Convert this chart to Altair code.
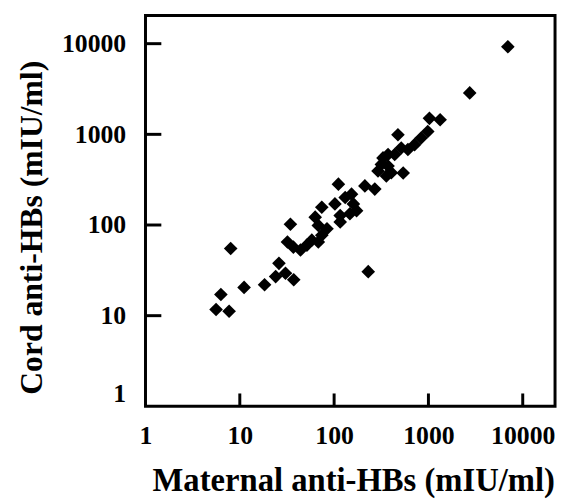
import altair as alt
import pandas as pd

# Values (mIU/ml)
maternal = [6950, 2740, 1025, 1330, 475, 984, 836, 713, 606, 515,
            439, 373, 330, 317, 292, 373, 404, 540, 212, 270,
            111, 230, 102, 131, 153, 160, 147, 116, 116, 173,
            63, 74, 68, 84, 32, 37, 44, 51.5, 58, 68,
            74, 34.4, 8.0, 6.3, 11.1, 18.3, 5.6, 7.7, 26, 24,
            30.5, 37.3, 358]
cord = [9250, 2865, 1500, 1450, 990, 1075, 910, 770, 680, 707,
        600, 600, 550, 466, 394, 447, 378, 375, 270, 249,
        282, 30.6, 171, 201, 219, 171, 133, 127, 108, 144,
        122, 157, 99, 91, 65, 57, 53, 60, 68, 65,
        77, 102, 55, 17.1, 20.5, 21.9, 11.7, 11.2, 37.8, 27,
        29.4, 24.9, 348]

tick_values = [10, 100, 1000, 10000]
label_values = [1, 10, 100, 1000, 10000]

x_title = "Maternal anti-HBs (mIU/ml)"
y_title = "Cord anti-HBs (mIU/ml)"

df = pd.DataFrame({"maternal": maternal, "cord": cord})
ticks = pd.DataFrame({"v": tick_values})

FONT = "Liberation Serif"
W, H = 414, 395

xscale = alt.Scale(type="log", domain=[1, 22000], nice=False)
yscale = alt.Scale(type="log", domain=[1, 20400], nice=False)

xaxis = alt.Axis(
    values=label_values, format="d", title=x_title,
    titleFont=FONT, titleFontSize=33, titleFontWeight="bold", titleColor="black",
    titleX=210, titleY=85, titleAlign="center", titleBaseline="alphabetic",
    labelFont=FONT, labelFontSize=26, labelFontWeight="bold", labelColor="black",
    labelPadding=17, labelFlush=False, ticks=False, tickSize=0,
    domain=False, grid=False)
yaxis = alt.Axis(
    values=label_values, format="d", title=y_title,
    titleFont=FONT, titleFontSize=32, titleFontWeight="bold", titleColor="black",
    titleX=-105, titleY=214, titleAngle=270, titleAlign="center",
    titleBaseline="alphabetic",
    labelFont=FONT, labelFontSize=26, labelFontWeight="bold", labelColor="black",
    labelPadding=20, labelFlush=True, ticks=False, tickSize=0,
    domain=False, grid=False)

points = alt.Chart(df).mark_point(
    shape="diamond", filled=True, size=190, color="black", opacity=1
).encode(
    x=alt.X("maternal:Q", scale=xscale, axis=xaxis),
    y=alt.Y("cord:Q", scale=yscale, axis=yaxis),
)

# inward tick marks on the frame, placed through the shared log scales
xticks = alt.Chart(ticks).mark_rule(color="black", strokeWidth=3).encode(
    x=alt.X("v:Q", scale=xscale, axis=None),
    y=alt.value(H), y2=alt.value(H - 13),
)
yticks = alt.Chart(ticks).mark_rule(color="black", strokeWidth=3).encode(
    y=alt.Y("v:Q", scale=yscale, axis=None),
    x=alt.value(0), x2=alt.value(16),
)

chart = alt.layer(points, xticks, yticks).resolve_axis(
    x="independent", y="independent"
).properties(
    width=W, height=H,
    autosize=alt.AutoSizeParams(type="none"),
    padding={"left": 139, "top": 5, "right": 3, "bottom": 92},
    background="white",
).configure_view(stroke="black", strokeWidth=3)

chart.save("out.html", embed_options={"renderer": "svg", "actions": False})
